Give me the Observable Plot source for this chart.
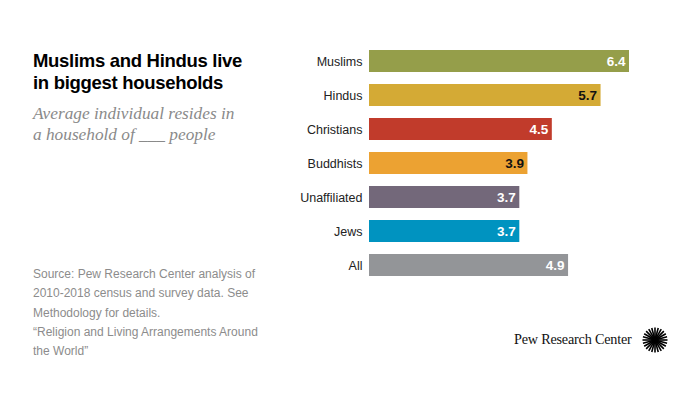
<!DOCTYPE html>
<html>
<head>
<meta charset="utf-8">
<script src="https://cdn.jsdelivr.net/npm/d3@7"></script>
<script src="https://cdn.jsdelivr.net/npm/@observablehq/plot@0.6"></script>
<style>
  html, body { margin: 0; padding: 0; background: #fff; }
  #page { position: relative; width: 700px; height: 394px; overflow: hidden; font-family: "Liberation Sans", Arial, sans-serif; }
  #chart { position: absolute; left: 0; top: 0; }
  .title { position: absolute; left: 33px; top: 50px; font-family: "Liberation Sans", Arial, sans-serif; font-weight: bold; font-size: 18.5px; line-height: 22px; color: #000; letter-spacing: -0.3px; }
  .subtitle { position: absolute; left: 33px; top: 104px; font-family: "Liberation Serif", "Times New Roman", serif; font-style: italic; font-size: 17.3px; line-height: 20.5px; color: #8a8a8a; }
  .source { position: absolute; left: 33px; top: 265px; font-size: 12px; line-height: 19.3px; color: #8c8c8c; }
  .brand { position: absolute; left: 514px; top: 331px; font-family: "Liberation Serif", "Times New Roman", serif; font-size: 14.2px; color: #111; letter-spacing: -0.2px; }
  #logo { position: absolute; left: 641px; top: 326px; }
</style>
</head>
<body>
<div id="page">
  <div id="chart"></div>
  <div class="title">Muslims and Hindus live<br>in biggest households</div>
  <div class="subtitle">Average individual resides in<br>a household of ___ people</div>
  <div class="source">Source: Pew Research Center analysis of<br>2010-2018 census and survey data. See<br>Methodology for details.<br>“Religion and Living Arrangements Around<br>the World”</div>
  <div class="brand">Pew Research Center</div>
  <svg id="logo" width="28" height="28"></svg>
</div>
<script>
const categories = ["Muslims", "Hindus", "Christians", "Buddhists", "Unaffiliated", "Jews", "All"];
const values = [6.4, 5.7, 4.5, 3.9, 3.7, 3.7, 4.9];
const barColors = ["#959e4a", "#d4aa35", "#c13b2b", "#eca232", "#73687a", "#0093c0", "#939598"];
const labelColors = ["#ffffff", "#111111", "#ffffff", "#111111", "#ffffff", "#ffffff", "#ffffff"];

const data = categories.map((c, i) => ({category: c, value: values[i], labelColor: labelColors[i]}));

const chart = Plot.plot({
  width: 700,
  height: 394,
  marginLeft: 369,
  marginRight: 71,
  marginTop: 44,
  marginBottom: 112,
  style: {fontFamily: "Liberation Sans, Arial, sans-serif", background: "transparent"},
  x: {domain: [0, 6.4], axis: null},
  y: {domain: categories, paddingInner: 0.353, paddingOuter: 0.1765, label: null},
  color: {domain: categories, range: barColors},
  marks: [
    Plot.barX(data, {x: "value", y: "category", fill: "category"}),
    Plot.text(data, {x: "value", y: "category", text: d => d.value.toFixed(1), textAnchor: "end", dx: -4, fill: d => d.labelColor, fontWeight: "bold", fontSize: 13.5}),
    Plot.axisY({tickSize: 0, tickPadding: 7, fontSize: 12.5, color: "#222", label: null})
  ]
});
document.getElementById("chart").appendChild(chart);
chart.querySelectorAll("[aria-label='y-axis tick label'] text").forEach(t => t.setAttribute("fill", "#222"));

// Pew sunburst logo
const logo = d3.select("#logo");
const cx = 14, cy = 14;
for (let i = 0; i < 24; i++) {
  const a = i * Math.PI * 2 / 24;
  logo.append("line")
    .attr("x1", cx + 3 * Math.cos(a)).attr("y1", cy + 3 * Math.sin(a))
    .attr("x2", cx + 12.5 * Math.cos(a)).attr("y2", cy + 12.5 * Math.sin(a))
    .attr("stroke", "#000").attr("stroke-width", 1.6);
}
logo.append("circle").attr("cx", cx).attr("cy", cy).attr("r", 3.5).attr("fill", "#000");
</script>
</body>
</html>
